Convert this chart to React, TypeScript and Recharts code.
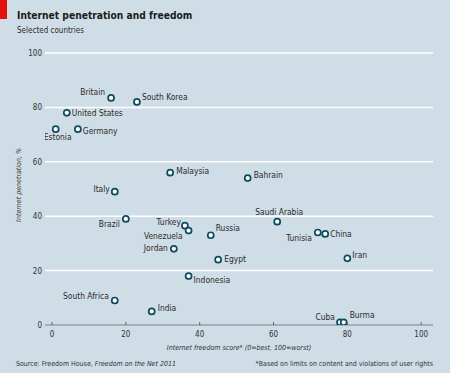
import { ScatterChart, Scatter, XAxis, YAxis, CartesianGrid } from "recharts";

// Country names with freedom score (x) and internet penetration % (y)
const countries = [
    "Britain", "South Korea", "United States", "Estonia", "Germany",
    "Malaysia", "Bahrain", "Italy", "Brazil", "Saudi Arabia",
    "Turkey", "Venezuela", "Russia", "Tunisia", "China",
    "Jordan", "Egypt", "Iran", "Indonesia", "South Africa",
    "India", "Cuba", "Burma",
];
const freedomScore = [
    16, 23, 4, 1, 7,
    32, 53, 17, 20, 61,
    36, 37, 43, 72, 74,
    33, 45, 80, 37, 17,
    27, 78, 79,
];
const penetration = [
    83.5, 82, 78, 72, 72,
    56, 54, 49, 39, 38,
    36.5, 34.7, 33, 34, 33.5,
    28, 24, 24.5, 18, 9,
    5, 1, 1,
];
const xTicks = [0, 20, 40, 60, 80, 100];
const yTicks = [0, 20, 40, 60, 80, 100];

const data = countries.map((name, i) => ({
    name,
    x: freedomScore[i],
    y: penetration[i],
}));

// where each country label sits relative to its dot
const labelPlace: Record<string, [number, number, "start" | "middle" | "end"]> = {
    "Britain": [-6, -3, "end"],
    "South Korea": [5, -2, "start"],
    "United States": [5, 3, "start"],
    "Estonia": [2, 11, "middle"],
    "Germany": [5, 5, "start"],
    "Malaysia": [6, 1, "start"],
    "Bahrain": [6, 0, "start"],
    "Italy": [-5, 0, "end"],
    "Brazil": [-6, 8, "end"],
    "Saudi Arabia": [2, -7, "middle"],
    "Turkey": [-4, -1, "end"],
    "Venezuela": [-6, 8, "end"],
    "Russia": [5, -4, "start"],
    "Tunisia": [-6, 8, "end"],
    "China": [5, 3, "start"],
    "Jordan": [-6, 2, "end"],
    "Egypt": [6, 2, "start"],
    "Iran": [5, 0, "start"],
    "Indonesia": [5, 7, "start"],
    "South Africa": [-6, -2, "end"],
    "India": [6, 0, "start"],
    "Cuba": [-5, -2, "end"],
    "Burma": [6, -4, "start"],
};

const FONT = '"Liberation Sans Narrow", "DejaVu Sans Condensed", "Liberation Sans", sans-serif';
const BG = "#cfdde6";
const DOT = "#0d4a5e";

const Dot = (props: any) => {
    const { cx, cy, payload } = props;
    const [dx, dy, anchor] = labelPlace[payload.name] || [5, 3, "start"];
    return (
        <g>
            <circle cx={cx} cy={cy} r={3} fill="#ffffff" stroke={DOT} strokeWidth={1.7} />
            <text
                x={cx + dx}
                y={cy + dy}
                textAnchor={anchor}
                fontSize={8.4}
                fontFamily={FONT}
                fill="#2a2a2a"
            >
                {payload.name}
            </text>
        </g>
    );
};

const XTick = (props: any) => {
    const { x, y, payload } = props;
    return (
        <g>
            <line x1={x} x2={x} y1={y - 3} y2={y} stroke="#4d6b78" strokeWidth={1} />
            <text x={x} y={y + 12} textAnchor="middle" fontSize={8} fontFamily={FONT} fill="#333">
                {payload.value}
            </text>
        </g>
    );
};

const YTick = (props: any) => {
    const { x, y, payload } = props;
    return (
        <text x={x - 3} y={y + 3} textAnchor="end" fontSize={8} fontFamily={FONT} fill="#333">
            {payload.value}
        </text>
    );
};

const App = () => {
    return (
        <div
            style={{
                position: "absolute",
                left: 0,
                top: 0,
                width: 450,
                height: 373,
                background: BG,
                overflow: "hidden",
            }}
        >
            <div style={{ position: "absolute", left: 0, top: 0, width: 7, height: 19, background: "#e3120b" }} />

            <ScatterChart
                width={450}
                height={373}
                margin={{ top: 53, right: 17, bottom: 28, left: 0 }}
            >
                <CartesianGrid vertical={false} stroke="#ffffff" strokeWidth={1.5} />

                <XAxis
                    type="number"
                    dataKey="x"
                    domain={[-1.9, 103.2]}
                    ticks={xTicks}
                    allowDataOverflow
                    height={20}
                    tickSize={0}
                    tickMargin={0}
                    tickLine={false}
                    axisLine={{ stroke: "#4d6b78", strokeWidth: 1 }}
                    tick={<XTick />}
                />

                <YAxis
                    type="number"
                    dataKey="y"
                    domain={[0, 100]}
                    ticks={yTicks}
                    allowDataOverflow
                    width={45}
                    tickSize={0}
                    tickMargin={0}
                    tickLine={false}
                    axisLine={false}
                    tick={<YTick />}
                />

                <Scatter data={data} shape={<Dot />} isAnimationActive={false} />

                <text x={17} y={19} fontSize={10.2} fontWeight="bold" fontFamily={FONT} fill="#1a1a1a">
                    Internet penetration and freedom
                </text>

                <text x={17} y={33} fontSize={8} fontFamily={FONT} fill="#2a2a2a">
                    Selected countries
                </text>

                <text
                    x={239}
                    y={350}
                    textAnchor="middle"
                    fontSize={7}
                    fontStyle="italic"
                    fontFamily={FONT}
                    fill="#333"
                >
                    Internet freedom score* (0=best, 100=worst)
                </text>

                <text
                    x={21}
                    y={185}
                    transform="rotate(-90 21 185)"
                    textAnchor="middle"
                    fontSize={7}
                    fontStyle="italic"
                    fontFamily={FONT}
                    fill="#333"
                >
                    Internet penetration, %
                </text>

                <text x={16} y={366} fontSize={7} fontFamily={FONT} fill="#333">
                    Source: Freedom House, <tspan fontStyle="italic">Freedom on the Net 2011</tspan>
                </text>

                <text x={433} y={366} textAnchor="end" fontSize={7} fontFamily={FONT} fill="#333">
                    *Based on limits on content and violations of user rights
                </text>
            </ScatterChart>
        </div>
    );
};

export default App;
